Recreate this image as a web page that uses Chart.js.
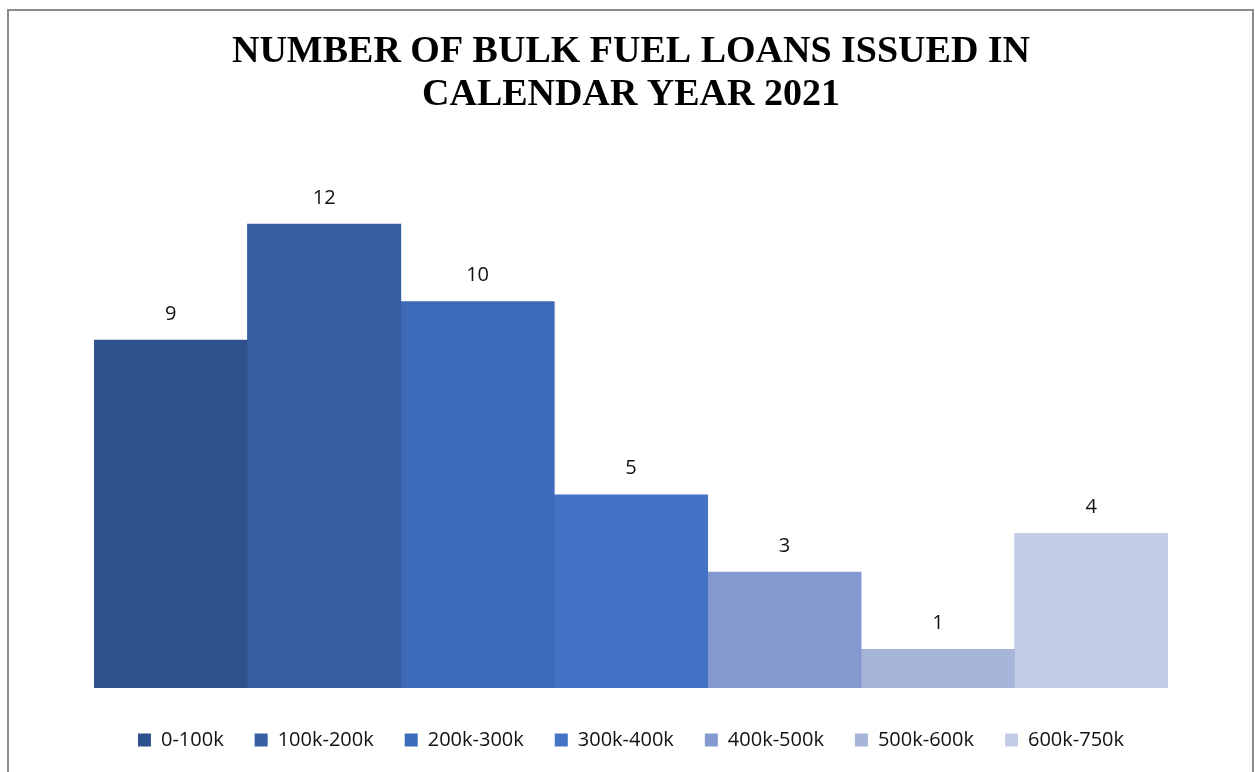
<!DOCTYPE html>
<html>
<head>
<meta charset="utf-8">
<script src="https://cdn.jsdelivr.net/npm/chart.js@4.4.1/dist/chart.umd.min.js"></script>
<style>
  html, body { margin: 0; padding: 0; background: #fff; }
  #wrap { position: relative; width: 1255px; height: 772px; overflow: hidden; }
  #frame {
    position: absolute; left: 7px; top: 9px; width: 1247px; height: 800px;
    box-sizing: border-box; border: 2px solid #8c8c8c; border-bottom: none;
    pointer-events: none;
  }
</style>
</head>
<body>
<div id="wrap">
  <canvas id="chart" width="1255" height="772"></canvas>
  <div id="frame"></div>
</div>
<script>
const titleLines = ['NUMBER OF BULK FUEL LOANS ISSUED IN', 'CALENDAR YEAR 2021'];
const loanRanges = ['0-100k', '100k-200k', '200k-300k', '300k-400k', '400k-500k', '500k-600k', '600k-750k'];
const loanCounts = [9, 12, 10, 5, 3, 1, 4];
const barColors = ['#2f528f', '#365ea3', '#3d6bb9', '#4472c4', '#8399d0', '#a8b5da', '#c3cce5'];

// one dataset per range so each gets its own legend entry
const datasets = loanRanges.map((label, i) => ({
    label: label,
    data: loanRanges.map((_, j) => (j === i ? loanCounts[i] : null)),
    backgroundColor: barColors[i],
    borderWidth: 0
}));

const valueLabels = {
    id: 'valueLabels',
    afterDatasetsDraw(chart) {
        const ctx = chart.ctx;
        ctx.save();
        ctx.font = '20px "Open Sans"';
        ctx.fillStyle = '#111';
        ctx.textAlign = 'center';
        ctx.textBaseline = 'middle';
        chart.data.datasets.forEach((ds, i) => {
            const meta = chart.getDatasetMeta(i);
            meta.data.forEach((bar, j) => {
                if (ds.data[j] == null) return;
                ctx.fillText(String(ds.data[j]), bar.x, bar.y - 26);
            });
        });
        ctx.restore();
    }
};

new Chart(document.getElementById('chart'), {
    type: 'bar',
    data: { labels: loanRanges, datasets: datasets },
    options: {
        responsive: false,
        animation: false,
        layout: { padding: { left: 94, right: 87, top: 0, bottom: 12 } },
        datasets: {
            bar: { grouped: false, categoryPercentage: 1, barPercentage: 1 }
        },
        scales: {
            x: {
                display: true,
                grid: { display: false, drawTicks: false },
                border: { display: false },
                ticks: { display: false },
                // invisible title used as a spacer between bars and legend
                title: { display: true, text: '', color: 'rgba(0,0,0,0)',
                         font: { size: 10, lineHeight: 1 }, padding: { top: 1, bottom: 0 } }
            },
            y: { display: false, min: 0, max: 14 }
        },
        plugins: {
            title: {
                display: true,
                text: titleLines,
                color: '#000',
                font: { family: '"Liberation Serif", serif', size: 38, weight: 'bold', lineHeight: 1.13 },
                padding: { top: 31, bottom: 30 }
            },
            legend: {
                position: 'bottom',
                labels: {
                    boxWidth: 13, boxHeight: 13, padding: 31,
                    color: '#111',
                    font: { family: '"Open Sans"', size: 20 }
                }
            },
            tooltip: { enabled: false }
        }
    },
    plugins: [valueLabels]
});
</script>
</body>
</html>
